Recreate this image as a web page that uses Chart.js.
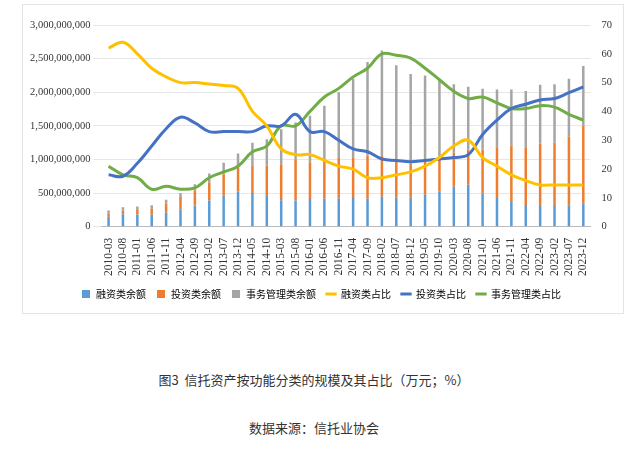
<!DOCTYPE html>
<html><head><meta charset="utf-8">
<script src="https://cdn.jsdelivr.net/npm/chart.js@4/dist/chart.umd.min.js"></script>
<style>
body{margin:0;background:#fff;width:628px;height:457px;overflow:hidden;font-family:"Noto Sans CJK SC",sans-serif;}
#wrap{position:absolute;left:22px;top:4px;width:600px;height:308px;border:1px solid #e4e4e4;}
.cap{position:absolute;left:0;width:628px;text-align:center;font-size:13px;color:#333;}
</style></head><body>
<div id="wrap"><canvas id="c"></canvas></div>
<div class="cap" style="top:370px">图3&nbsp;&nbsp;信托资产按功能分类的规模及其占比（万元；%）</div>
<div class="cap" style="top:418px">数据来源：信托业协会</div>
<script>
const labels=["2010-03","2010-08","2011-01","2011-06","2011-11","2012-04","2012-09","2013-02","2013-07","2013-12","2014-05","2014-10","2015-03","2015-08","2016-01","2016-06","2016-11","2017-04","2017-09","2018-02","2018-07","2018-12","2019-05","2019-10","2020-03","2020-08","2021-01","2021-06","2021-11","2022-04","2022-09","2023-02","2023-07","2023-12"];
// balances in millions of 万元
const financingBal=[149,186,180,176,208,250,315,391,466,523,500,455,392,388,413,414,420,440,417,445,432,431,473,528,594,624,492,428,367,323,306,307,319,347];
const investBal=[43,52,69,90,136,190,227,261,314,360,413,455,537,605,545,594,600,594,637,616,552,511,518,517,509,520,656,755,836,859,928,943,1023,1159];
const affairsBal=[48,52,51,54,56,60,88,138,170,207,337,390,521,557,692,792,980,1166,1396,1559,1416,1328,1259,1155,1017,936,902,857,837,838,876,870,858,884];
// shares %
const financingPct=[62,64,60,55,52,50,50,49.5,49,48,40,35,27,25,25,23,21,20,17,17,18,19,21,24,28,30,24,21,18,16,14.5,14.5,14.5,14.5];
const investPct=[18,17.5,22,28,34,38,36,33,33,33,33,35,35,39,33,33,30,27,26,23.5,23,22.5,23,23.5,24,25,32,37,41,42.5,44,44.5,46.5,48.5];
const affairsPct=[21,18,17,13,14,13,13.5,17,19,21,26,28,35,35,40,45,48,52,55,60,59.5,58.5,55,51,47,44.5,45,43,41,41,42,41.5,39,37];
const bar=(l,d,c)=>({type:'bar',label:l,data:d,backgroundColor:c,yAxisID:'y',stack:'s',maxBarThickness:2.5,order:2});
const line=(l,d,c)=>({type:'line',label:l,data:d,borderColor:c,backgroundColor:c,yAxisID:'y1',borderWidth:3,pointRadius:0,tension:0.4,order:1,pointStyle:'line'});
new Chart(document.getElementById('c'),{
 data:{labels,datasets:[
  bar('融资类余额',financingBal,'#5B9BD5'),
  bar('投资类余额',investBal,'#ED7D31'),
  bar('事务管理类余额',affairsBal,'#A5A5A5'),
  line('融资类占比',financingPct,'#FFC000'),
  line('投资类占比',investPct,'#4472C4'),
  line('事务管理类占比',affairsPct,'#70AD47')]},
 options:{responsive:true,maintainAspectRatio:false,animation:false,
  layout:{padding:{left:4,right:8,top:20,bottom:4}},
  plugins:{tooltip:{enabled:false},
   legend:{position:'bottom',labels:{usePointStyle:true,boxWidth:14,boxHeight:8,padding:10,font:{size:10,family:'"Noto Sans CJK SC"'},color:'#333',
    generateLabels(ch){return ch.data.datasets.map((d,i)=>({text:d.label,fillStyle:d.backgroundColor,strokeStyle:d.type==='line'?d.borderColor:d.backgroundColor,lineWidth:d.type==='line'?3:0,pointStyle:d.type==='line'?'line':'rect',datasetIndex:i,hidden:false}));}}}},
  scales:{
   x:{stacked:true,grid:{display:false},border:{color:'#bbb'},ticks:{autoSkip:false,maxRotation:90,minRotation:90,font:{size:11.5,family:'"Liberation Serif"'},color:'#333'}},
   y:{stacked:true,min:0,max:3000,ticks:{stepSize:500,font:{size:10.5,family:'"Liberation Serif"'},color:'#333',callback:v=>v===0?'0':(v*1e6).toLocaleString('en-US')},grid:{color:'#e6e6e6'},border:{display:false}},
   y1:{position:'right',min:0,max:70,ticks:{stepSize:10,font:{size:10.5,family:'"Liberation Serif"'},color:'#333'},grid:{display:false},border:{display:false}}
  }}
});
</script></body></html>
